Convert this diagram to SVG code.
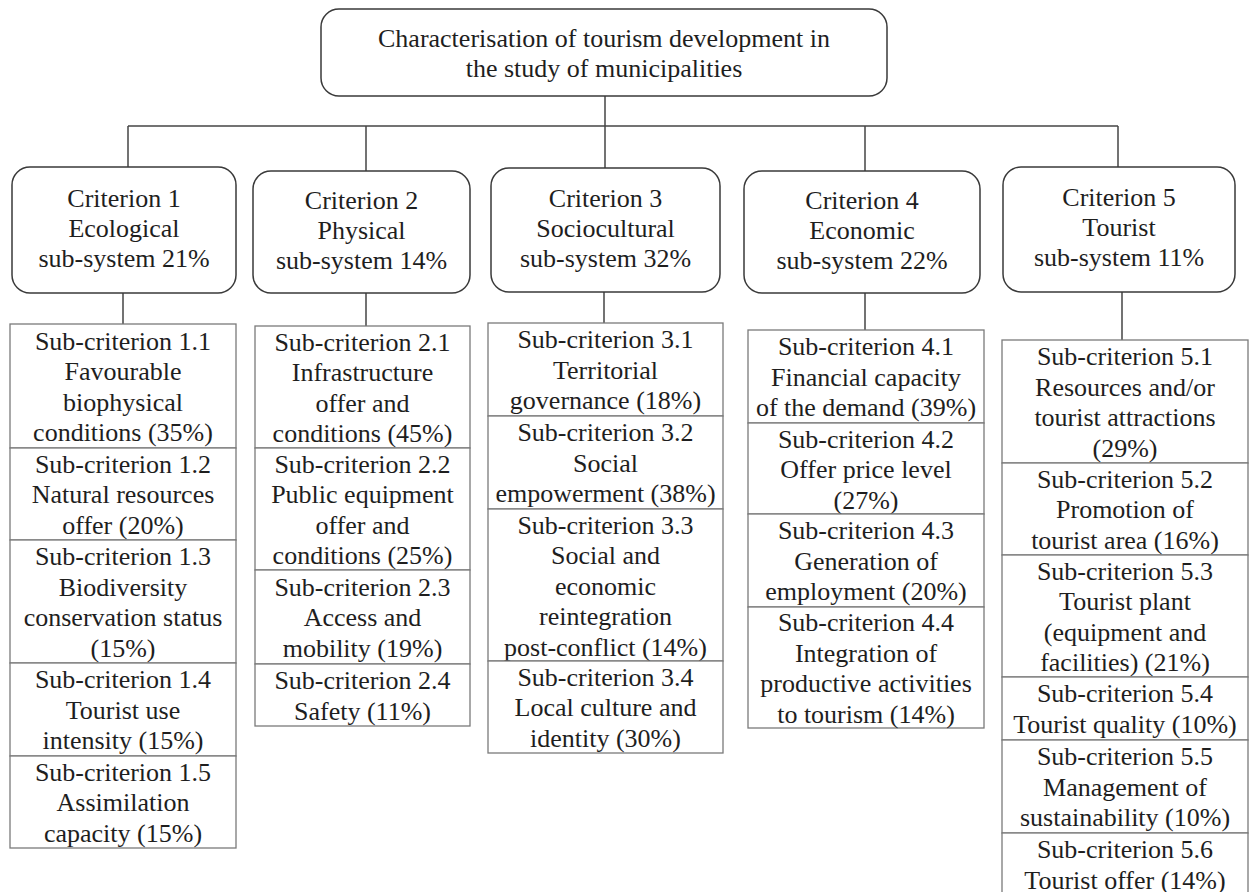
<svg xmlns="http://www.w3.org/2000/svg" width="1250" height="892" viewBox="0 0 1250 892">
<style>
  .bg { fill: #ffffff; }
  .rbox { fill: #ffffff; stroke: #3a3a3a; stroke-width: 1.5; }
  .sbox { fill: #ffffff; stroke: #7a7a7a; stroke-width: 1.3; }
  .conn { stroke: #444444; stroke-width: 1.5; fill: none; }
  .t { font-family: 'Liberation Serif', Tinos, 'Times New Roman', 'DejaVu Serif', serif; font-size: 26px; fill: #1e1e1e; text-anchor: middle; }
</style>
<rect class="bg" x="0" y="0" width="1250" height="892"/>

<g id="connectors">
  <line class="conn" x1="605" y1="96" x2="605" y2="168"/>
  <line class="conn" x1="128" y1="126" x2="1118" y2="126"/>
  <line class="conn" x1="128" y1="126" x2="128" y2="167"/>
  <line class="conn" x1="366" y1="126" x2="366" y2="171"/>
  <line class="conn" x1="865" y1="126" x2="865" y2="171"/>
  <line class="conn" x1="1118" y1="126" x2="1118" y2="167"/>
  <line class="conn" x1="123" y1="293" x2="123" y2="324"/>
  <line class="conn" x1="366" y1="293" x2="366" y2="326"/>
  <line class="conn" x1="604" y1="292" x2="604" y2="323"/>
  <line class="conn" x1="865" y1="293" x2="865" y2="330"/>
  <line class="conn" x1="1122" y1="292" x2="1122" y2="340"/>
</g>

<g class="t" font-family="Liberation Serif, Tinos, Times New Roman, DejaVu Serif, serif">
<g id="root">
  <rect class="rbox" x="321" y="9" width="566" height="87" rx="18"/>
  <text x="604" y="47">Characterisation of tourism development in</text>
  <text x="604" y="77">the study of municipalities</text>
</g>

<g id="criterion1">
  <rect class="rbox" x="12" y="167" width="224" height="126" rx="18"/>
  <text x="124" y="207">Criterion 1</text>
  <text x="124" y="237">Ecological</text>
  <text x="124" y="267">sub-system 21%</text>
</g>
<g id="criterion2">
  <rect class="rbox" x="253" y="171" width="217" height="122" rx="18"/>
  <text x="361.5" y="209">Criterion 2</text>
  <text x="361.5" y="239">Physical</text>
  <text x="361.5" y="269">sub-system 14%</text>
</g>
<g id="criterion3">
  <rect class="rbox" x="491" y="168" width="229" height="124" rx="18"/>
  <text x="605.5" y="207">Criterion 3</text>
  <text x="605.5" y="237">Sociocultural</text>
  <text x="605.5" y="267">sub-system 32%</text>
</g>
<g id="criterion4">
  <rect class="rbox" x="744" y="171" width="236" height="122" rx="18"/>
  <text x="862" y="209">Criterion 4</text>
  <text x="862" y="239">Economic</text>
  <text x="862" y="269">sub-system 22%</text>
</g>
<g id="criterion5">
  <rect class="rbox" x="1003" y="167" width="232" height="125" rx="18"/>
  <text x="1119" y="206">Criterion 5</text>
  <text x="1119" y="236">Tourist</text>
  <text x="1119" y="266">sub-system 11%</text>
</g>

<g id="sub1-1">
  <rect class="sbox" x="10" y="324" width="226" height="124"/>
  <text x="123" y="349.5">Sub-criterion 1.1</text>
  <text x="123" y="380">Favourable</text>
  <text x="123" y="410.5">biophysical</text>
  <text x="123" y="441">conditions (35%)</text>
</g>
<g id="sub1-2">
  <rect class="sbox" x="10" y="448" width="226" height="92"/>
  <text x="123" y="472.5">Sub-criterion 1.2</text>
  <text x="123" y="503">Natural resources</text>
  <text x="123" y="533.5">offer (20%)</text>
</g>
<g id="sub1-3">
  <rect class="sbox" x="10" y="540" width="226" height="123"/>
  <text x="123" y="565">Sub-criterion 1.3</text>
  <text x="123" y="595.5">Biodiversity</text>
  <text x="123" y="626">conservation status</text>
  <text x="123" y="656.5">(15%)</text>
</g>
<g id="sub1-4">
  <rect class="sbox" x="10" y="663" width="226" height="93"/>
  <text x="123" y="688">Sub-criterion 1.4</text>
  <text x="123" y="718.5">Tourist use</text>
  <text x="123" y="749">intensity (15%)</text>
</g>
<g id="sub1-5">
  <rect class="sbox" x="10" y="756" width="226" height="92"/>
  <text x="123" y="780.5">Sub-criterion 1.5</text>
  <text x="123" y="811">Assimilation</text>
  <text x="123" y="841.5">capacity (15%)</text>
</g>

<g id="sub2-1">
  <rect class="sbox" x="255" y="326" width="215" height="122"/>
  <text x="362.5" y="350.5">Sub-criterion 2.1</text>
  <text x="362.5" y="381">Infrastructure</text>
  <text x="362.5" y="411.5">offer and</text>
  <text x="362.5" y="442">conditions (45%)</text>
</g>
<g id="sub2-2">
  <rect class="sbox" x="255" y="448" width="215" height="122"/>
  <text x="362.5" y="472.5">Sub-criterion 2.2</text>
  <text x="362.5" y="503">Public equipment</text>
  <text x="362.5" y="533.5">offer and</text>
  <text x="362.5" y="564">conditions (25%)</text>
</g>
<g id="sub2-3">
  <rect class="sbox" x="255" y="570" width="215" height="94"/>
  <text x="362.5" y="595.5">Sub-criterion 2.3</text>
  <text x="362.5" y="626">Access and</text>
  <text x="362.5" y="656.5">mobility (19%)</text>
</g>
<g id="sub2-4">
  <rect class="sbox" x="255" y="664" width="215" height="62"/>
  <text x="362.5" y="689">Sub-criterion 2.4</text>
  <text x="362.5" y="719.5">Safety (11%)</text>
</g>

<g id="sub3-1">
  <rect class="sbox" x="488" y="323" width="235" height="93"/>
  <text x="605.5" y="348">Sub-criterion 3.1</text>
  <text x="605.5" y="378.5">Territorial</text>
  <text x="605.5" y="409">governance (18%)</text>
</g>
<g id="sub3-2">
  <rect class="sbox" x="488" y="416" width="235" height="93"/>
  <text x="605.5" y="441">Sub-criterion 3.2</text>
  <text x="605.5" y="471.5">Social</text>
  <text x="605.5" y="502">empowerment (38%)</text>
</g>
<g id="sub3-3">
  <rect class="sbox" x="488" y="509" width="235" height="152"/>
  <text x="605.5" y="533.5">Sub-criterion 3.3</text>
  <text x="605.5" y="564">Social and</text>
  <text x="605.5" y="594.5">economic</text>
  <text x="605.5" y="625">reintegration</text>
  <text x="605.5" y="655.5">post-conflict (14%)</text>
</g>
<g id="sub3-4">
  <rect class="sbox" x="488" y="661" width="235" height="92"/>
  <text x="605.5" y="685.5">Sub-criterion 3.4</text>
  <text x="605.5" y="716">Local culture and</text>
  <text x="605.5" y="746.5">identity (30%)</text>
</g>

<g id="sub4-1">
  <rect class="sbox" x="748" y="330" width="236" height="93"/>
  <text x="866" y="355">Sub-criterion 4.1</text>
  <text x="866" y="385.5">Financial capacity</text>
  <text x="866" y="416">of the demand (39%)</text>
</g>
<g id="sub4-2">
  <rect class="sbox" x="748" y="423" width="236" height="91"/>
  <text x="866" y="447.5">Sub-criterion 4.2</text>
  <text x="866" y="478">Offer price level</text>
  <text x="866" y="508.5">(27%)</text>
</g>
<g id="sub4-3">
  <rect class="sbox" x="748" y="514" width="236" height="93"/>
  <text x="866" y="539">Sub-criterion 4.3</text>
  <text x="866" y="569.5">Generation of</text>
  <text x="866" y="600">employment (20%)</text>
</g>
<g id="sub4-4">
  <rect class="sbox" x="748" y="607" width="236" height="121"/>
  <text x="866" y="631">Sub-criterion 4.4</text>
  <text x="866" y="661.5">Integration of</text>
  <text x="866" y="692">productive activities</text>
  <text x="866" y="722.5">to tourism (14%)</text>
</g>

<g id="sub5-1">
  <rect class="sbox" x="1002" y="340" width="246" height="123"/>
  <text x="1125" y="365">Sub-criterion 5.1</text>
  <text x="1125" y="395.5">Resources and/or</text>
  <text x="1125" y="426">tourist attractions</text>
  <text x="1125" y="456.5">(29%)</text>
</g>
<g id="sub5-2">
  <rect class="sbox" x="1002" y="463" width="246" height="92"/>
  <text x="1125" y="487.5">Sub-criterion 5.2</text>
  <text x="1125" y="518">Promotion of</text>
  <text x="1125" y="548.5">tourist area (16%)</text>
</g>
<g id="sub5-3">
  <rect class="sbox" x="1002" y="555" width="246" height="122"/>
  <text x="1125" y="579.5">Sub-criterion 5.3</text>
  <text x="1125" y="610">Tourist plant</text>
  <text x="1125" y="640.5">(equipment and</text>
  <text x="1125" y="671">facilities) (21%)</text>
</g>
<g id="sub5-4">
  <rect class="sbox" x="1002" y="677" width="246" height="63"/>
  <text x="1125" y="702">Sub-criterion 5.4</text>
  <text x="1125" y="732.5">Tourist quality (10%)</text>
</g>
<g id="sub5-5">
  <rect class="sbox" x="1002" y="740" width="246" height="93"/>
  <text x="1125" y="765">Sub-criterion 5.5</text>
  <text x="1125" y="795.5">Management of</text>
  <text x="1125" y="826">sustainability (10%)</text>
</g>
<g id="sub5-6">
  <rect class="sbox" x="1002" y="833" width="246" height="62"/>
  <text x="1125" y="858">Sub-criterion 5.6</text>
  <text x="1125" y="888.5">Tourist offer (14%)</text>
</g>
</g>
</svg>
